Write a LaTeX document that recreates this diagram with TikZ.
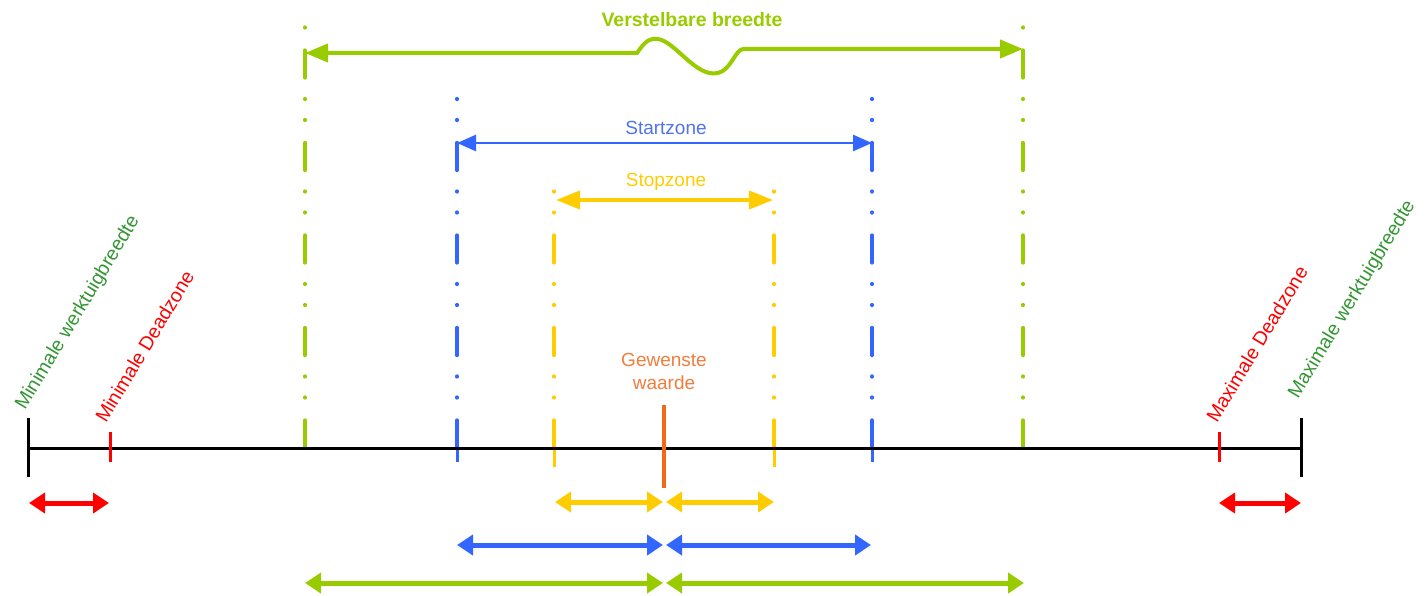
\documentclass[tikz,border=0pt]{standalone}
\usepackage{fontspec}
\setmainfont{Liberation Sans}
\usetikzlibrary{arrows.meta}
\definecolor{lime}{RGB}{153,204,0}
\definecolor{zblue}{RGB}{51,102,255}
\definecolor{zbluetext}{RGB}{80,115,235}
\definecolor{zyellow}{RGB}{255,204,0}
\definecolor{zred}{RGB}{255,0,0}
\definecolor{zorange}{RGB}{240,105,25}
\definecolor{zorangetext}{RGB}{240,125,60}
\definecolor{dgreen}{RGB}{51,150,51}
\begin{document}
\begin{tikzpicture}[x=1pt,y=-1pt,
  lbl/.style={font=\fontsize{19}{23}\selectfont, inner sep=0pt},
  rlbl/.style={font=\fontsize{19.5}{23}\selectfont, inner sep=0pt, rotate=59, anchor=base west},
  vdash/.style={line width=3.2pt, line cap=round,
    dash pattern=on 28pt off 22pt on 1pt off 20pt on 1pt off 20.5pt},
  tick/.style={line width=3pt},
  dbl/.style={line width=5pt, {Triangle[length=16pt,width=20pt]}-{Triangle[length=16pt,width=20pt]}}
]
\useasboundingbox (0,0) rectangle (1426,596);

% ---- coordinates ----
\coordinate (axL) at (28,448);
\coordinate (axR) at (1301,448);
\coordinate (gL0) at (305,448);  \coordinate (gLt) at (305,23);
\coordinate (gR0) at (1023,448); \coordinate (gRt) at (1023,23);
\coordinate (bL0) at (457,448);  \coordinate (bLt) at (457,93);  \coordinate (bLb) at (457,462);
\coordinate (bR0) at (872,448);  \coordinate (bRt) at (872,93);  \coordinate (bRb) at (872,462);
\coordinate (yL0) at (554,448);  \coordinate (yLt) at (554,188); \coordinate (yLb) at (554,467);
\coordinate (yR0) at (774,448);  \coordinate (yRt) at (774,188); \coordinate (yRb) at (774,467);

% ---- vertical dash-dot-dot lines ----
\draw[vdash, lime] (gL0) -- (gLt);
\draw[vdash, lime] (gR0) -- (gRt);
\draw[vdash, zblue] (bL0) -- (bLt);
\draw[vdash, zblue] (bR0) -- (bRt);
\draw[tick, zblue] (bL0) -- (bLb);
\draw[tick, zblue] (bR0) -- (bRb);
\draw[vdash, zyellow] (yL0) -- (yLt);
\draw[vdash, zyellow] (yR0) -- (yRt);
\draw[tick, zyellow] (yL0) -- (yLb);
\draw[tick, zyellow] (yR0) -- (yRb);

% ---- axis ----
\draw[line width=3pt, black] (axL) -- (axR);
\coordinate (axLt) at (28,418); \coordinate (axLb) at (28,477);
\coordinate (axRt) at (1301,418); \coordinate (axRb) at (1301,477);
\draw[tick, black] (axLt) -- (axLb);
\draw[tick, black] (axRt) -- (axRb);
\coordinate (rLt) at (110,432); \coordinate (rLb) at (110,462);
\coordinate (rRt) at (1219,432); \coordinate (rRb) at (1219,462);
\draw[tick, zred] (rLt) -- (rLb);
\draw[tick, zred] (rRt) -- (rRb);
\coordinate (gwT) at (664,405); \coordinate (gwB) at (664,488);
\draw[line width=3.5pt, zorange] (gwT) -- (gwB);

% ---- top arrows ----
\coordinate (vbL) at (305,53);
\coordinate (vbR) at (1023,49);
\draw[lime, line width=4pt, {Triangle[length=23pt,width=18pt]}-{Triangle[length=23pt,width=18pt]}]
  (vbL) -- (637,53) .. controls (646,40) and (650,38) .. (658,39)
  .. controls (676,42) and (696,78) .. (718,73)
  .. controls (731,70) and (735,50) .. (743,49) -- (vbR);
\node[lbl, font=\fontsize{19.5}{23}\selectfont\bfseries, text=lime, anchor=base] (vbtxt) at (692,27) {Verstelbare breedte};

\coordinate (szL) at (457,143);
\coordinate (szR) at (872,143);
\draw[zblue, line width=2.7pt, {Triangle[length=19pt,width=16pt]}-{Triangle[length=19pt,width=16pt]}] (szL) -- (szR);
\node[lbl, text=zbluetext, anchor=base] (sztxt) at (666,135) {Startzone};

\coordinate (stL) at (556,200);
\coordinate (stR) at (773,200);
\draw[zyellow, line width=4pt, {Triangle[length=24pt,width=18pt]}-{Triangle[length=24pt,width=18pt]}] (stL) -- (stR);
\node[lbl, text=zyellow, anchor=base] (sttxt) at (666,186) {Stopzone};

% ---- Gewenste waarde ----
\node[lbl, text=zorangetext, anchor=base, align=center] (gwtxt) at (664,389) {Gewenste\\waarde};

% ---- rotated labels ----
\node[rlbl, text=dgreen] (minw) at (25,411) {Minimale werktuigbreedte};
\node[rlbl, text=zred] (mind) at (106,424) {Minimale Deadzone};
\node[rlbl, text=zred] (maxd) at (1217,424) {Maximale Deadzone};
\node[rlbl, text=dgreen] (maxw) at (1298,400) {Maximale werktuigbreedte};

% ---- bottom arrows ----
\coordinate (ra1) at (29,503);   \coordinate (ra2) at (109,503);
\coordinate (ra3) at (1219,503); \coordinate (ra4) at (1301,503);
\draw[dbl, zred] (ra1) -- (ra2);
\draw[dbl, zred] (ra3) -- (ra4);
\coordinate (ya1) at (555,502); \coordinate (ya2) at (663,502);
\coordinate (ya3) at (666,502); \coordinate (ya4) at (774,502);
\draw[dbl, zyellow] (ya1) -- (ya2);
\draw[dbl, zyellow] (ya3) -- (ya4);
\coordinate (ba1) at (457,545); \coordinate (ba2) at (663,545);
\coordinate (ba3) at (666,545); \coordinate (ba4) at (871,545);
\draw[dbl, zblue] (ba1) -- (ba2);
\draw[dbl, zblue] (ba3) -- (ba4);
\coordinate (ga1) at (305,583); \coordinate (ga2) at (663,583);
\coordinate (ga3) at (666,583); \coordinate (ga4) at (1024,583);
\draw[dbl, lime] (ga1) -- (ga2);
\draw[dbl, lime] (ga3) -- (ga4);
\end{tikzpicture}
\end{document}
